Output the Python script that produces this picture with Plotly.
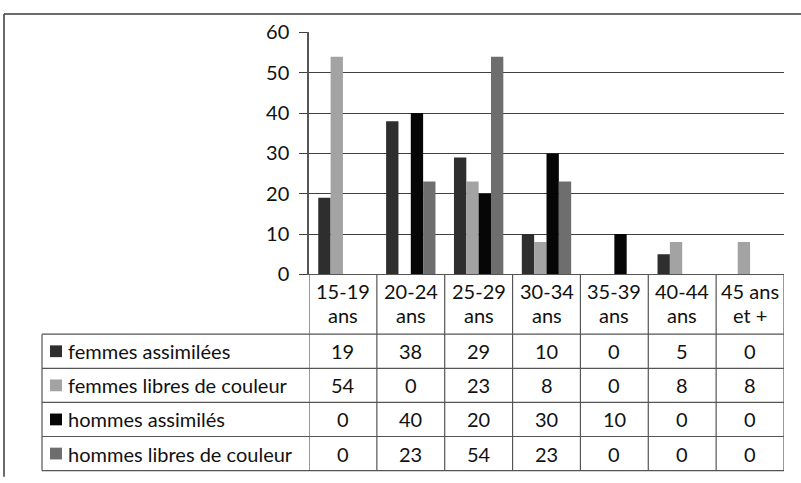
import plotly.graph_objects as go

# Age groups (two-line header labels in the data table)
categories = ["15-19 ans", "20-24 ans", "25-29 ans", "30-34 ans", "35-39 ans", "40-44 ans", "45 ans et +"]
header_labels = ["15-19<br>ans", "20-24<br>ans", "25-29<br>ans", "30-34<br>ans", "35-39<br>ans", "40-44<br>ans", "45 ans<br>et +"]

series_names = ["femmes assimilées", "femmes libres de couleur", "hommes assimilés", "hommes libres de couleur"]
femmes_assimilees = [19, 38, 29, 10, 0, 5, 0]
femmes_libres = [54, 0, 23, 8, 0, 8, 8]
hommes_assimiles = [0, 40, 20, 30, 10, 0, 0]
hommes_libres = [0, 23, 54, 23, 0, 0, 0]
y_ticks = [0, 10, 20, 30, 40, 50, 60]

series_values = [femmes_assimilees, femmes_libres, hommes_assimiles, hommes_libres]
series_colors = ["#2e2e2e", "#a3a3a3", "#060606", "#6e6e6e"]

W, H = 801, 483
FONT = "Lato"
FS = 20
LINE = "#555555"


def px(x):
    return x / W


def py(y):
    return 1 - y / H


# pixel layout of the plot area and the data table
FRAME_L, FRAME_T = 4, 1
PLOT_L, PLOT_R, PLOT_T, PLOT_B = 309, 784, 20.5, 275
TABLE_L = 42
HEADER_B = 338
TABLE_B = 481.5
HEADER_LINES = (292.5, 318)
ROW_H = (TABLE_B - HEADER_B) / 4
row_edges = [HEADER_B + i * ROW_H for i in range(5)]

fig = go.Figure()
for name, vals, col in zip(series_names, series_values, series_colors):
    fig.add_trace(go.Bar(
        x=categories, y=vals, name=name,
        marker=dict(color=col, line=dict(width=0)),
        showlegend=False,
    ))

shapes = []
annotations = []

# outer frame (top and left edges)
shapes.append(dict(type="line", xref="paper", yref="paper", x0=px(FRAME_L), x1=px(W + 5),
                   y0=py(FRAME_T), y1=py(FRAME_T), line=dict(color="#3a3a3a", width=1.5)))
shapes.append(dict(type="line", xref="paper", yref="paper", x0=px(FRAME_L), x1=px(FRAME_L),
                   y0=py(FRAME_T), y1=py(H + 5), line=dict(color="#3a3a3a", width=1.5)))

# table horizontal rules
for y in row_edges:
    shapes.append(dict(type="line", xref="paper", yref="paper", x0=px(TABLE_L), x1=px(PLOT_R),
                       y0=py(y), y1=py(y), line=dict(color=LINE, width=1.2)))
# left edge of the legend column
shapes.append(dict(type="line", xref="paper", yref="paper", x0=px(TABLE_L), x1=px(TABLE_L),
                   y0=py(HEADER_B), y1=py(row_edges[-1]), line=dict(color=LINE, width=1.2)))
# category column boundaries
for i in range(len(categories) + 1):
    shapes.append(dict(type="line", xref="x", yref="paper", x0=i - 0.5, x1=i - 0.5,
                       y0=py(PLOT_B), y1=py(row_edges[-1]), line=dict(color=LINE, width=1.2)))

# header labels (two lines each)
for cat, lab in zip(categories, header_labels):
    for txt, yc in zip(lab.split("<br>"), HEADER_LINES):
        annotations.append(dict(x=cat, xref="x", y=py(yc), yref="paper",
                                text=txt, showarrow=False, font=dict(family=FONT, size=FS, color="#111"),
                                xanchor="center", yanchor="middle"))

# legend column and values
for r, (name, vals, col) in enumerate(zip(series_names, series_values, series_colors)):
    yc = (row_edges[r] + row_edges[r + 1]) / 2
    shapes.append(dict(type="rect", xref="paper", yref="paper",
                       x0=px(50), x1=px(62), y0=py(yc - 6.2), y1=py(yc + 6.2),
                       fillcolor=col, line=dict(width=0)))
    annotations.append(dict(x=px(66), xref="paper", y=py(yc), yref="paper", text=name,
                            showarrow=False, font=dict(family=FONT, size=FS, color="#111"),
                            xanchor="left", yanchor="middle"))
    for cat, v in zip(categories, vals):
        annotations.append(dict(x=cat, xref="x", y=py(yc), yref="paper", text=str(v),
                                showarrow=False, font=dict(family=FONT, size=FS, color="#111"),
                                xanchor="center", yanchor="middle"))

fig.update_layout(
    width=W, height=H,
    margin=dict(l=0, r=0, t=0, b=0),
    paper_bgcolor="white", plot_bgcolor="white",
    barmode="group", bargap=1.5 / 5.5, bargroupgap=0,
    shapes=shapes, annotations=annotations,
    font=dict(family=FONT, size=FS, color="#111"),
    xaxis=dict(domain=[px(PLOT_L), px(PLOT_R)], range=[-0.5, len(categories) - 0.5],
               showticklabels=False, ticks="", showgrid=False, zeroline=False,
               showline=True, linecolor=LINE, linewidth=1.2, fixedrange=True),
    yaxis=dict(domain=[py(PLOT_B), py(PLOT_T)], range=[0, 60], tickvals=y_ticks,
               showgrid=True, gridcolor="#404040", gridwidth=1.2,
               ticks="outside", ticklen=8, tickcolor="#404040", tickwidth=1.2,
               ticklabelstandoff=6,
               showline=True, linecolor=LINE, linewidth=1.5, zeroline=False,
               tickfont=dict(family=FONT, size=FS, color="#111"), fixedrange=True),
)

fig.write_html("out.html")
